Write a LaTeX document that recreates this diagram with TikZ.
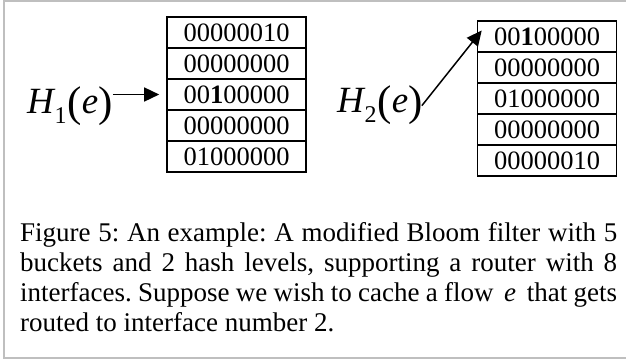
\documentclass[tikz,border=0pt]{standalone}
\usepackage{fontspec}
\setmainfont{Liberation Serif}
\usetikzlibrary{arrows.meta,calc}
\newcommand{\bigpar}[1]{\raisebox{-3pt}{\fontsize{43}{43}\selectfont #1}}
\newcommand{\hsub}[1]{\kern-1pt\raisebox{-10pt}{\fontsize{24}{24}\selectfont #1}\kern1pt}
\begin{document}
\begin{tikzpicture}[x=1pt,y=-1pt,
  cell/.style={draw, line width=1.6pt, minimum width=139pt, minimum height=31pt, inner sep=0pt, font=\fontsize{26.5}{26.5}\selectfont},
  hlabel/.style={inner sep=0pt, anchor=base west, font=\fontsize{37}{37}\selectfont},
  arr/.style={line width=1.5pt, -{Triangle[length=15pt,width=14pt]}},
  frame/.style={draw=black!25, line width=2pt},
  captxt/.style={anchor=north west, inner sep=0pt, text width=597pt, align=justify, font=\fontsize{27}{30}\selectfont}]
\useasboundingbox (0,0) rectangle (626,360);
\draw[frame] (640,1) -- (4,1) -- (4,358) -- (640,358);
% left table
\node[cell] (a1) at (236.5,32.5) {00000010};
\node[cell] (a2) at (236.5,63.5) {00000000};
\node[cell] (a3) at (236.5,94.5) {00\textbf{1}00000};
\node[cell] (a4) at (236.5,125.5) {00000000};
\node[cell] (a5) at (236.5,156.5) {01000000};
% right table
\node[cell] (b1) at (547,36.5) {00\textbf{1}00000};
\node[cell] (b2) at (547,67.5) {00000000};
\node[cell] (b3) at (547,98.5) {01000000};
\node[cell] (b4) at (547,129.5) {00000000};
\node[cell] (b5) at (547,160.5) {00000010};
% labels
\node[hlabel] (h1) at (27,113) {\textit{H}\hsub{1}\bigpar{(}\textit{e}\bigpar{)}};
\node[hlabel] (h2) at (337,112) {\textit{H}\hsub{2}\bigpar{(}\textit{e}\bigpar{)}};
% arrows
\draw[arr, shorten >=7pt] (h1.east |- a3.west) -- (a3.west);
\coordinate (t2) at ($(b1.west)+(5,-6)$);
\draw[arr] ($(h2.east)+(-1,1)$) -- (t2);
% caption
\node[captxt] (cap) at (20,222) {\frenchspacing\hyphenpenalty=10000\exhyphenpenalty=10000 Figure 5: An example: A modified Bloom filter with 5\linebreak buckets and 2 hash levels, supporting a router with 8\linebreak interfaces. Suppose we wish to cache a flow \,\textit{e}\, that gets\linebreak routed to interface number 2.};
\end{tikzpicture}
\end{document}
